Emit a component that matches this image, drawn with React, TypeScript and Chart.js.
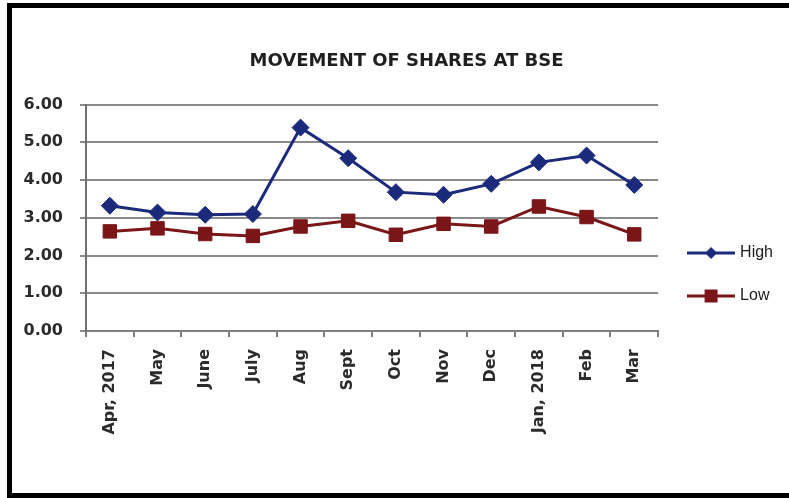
import { useEffect, useRef } from "react";
import { Chart, registerables } from "chart.js";
Chart.register(...registerables);

const categories = ["Apr, 2017", "May", "June", "July", "Aug", "Sept", "Oct", "Nov", "Dec", "Jan, 2018", "Feb", "Mar"];
const highValues = [3.32, 3.14, 3.08, 3.1, 5.39, 4.58, 3.68, 3.61, 3.9, 4.47, 4.65, 3.87];
const lowValues = [2.64, 2.72, 2.57, 2.52, 2.77, 2.92, 2.55, 2.84, 2.77, 3.3, 3.02, 2.56];
const yTicks = [0, 1, 2, 3, 4, 5, 6];
const seriesNames = ["High", "Low"];
const titleText = "MOVEMENT OF SHARES AT BSE";

const HIGH_COLOR = "#1c2a7c";
const LOW_COLOR = "#7a1518";

function makeLegendImage(color: string, kind: "diamond" | "square") {
  const c = document.createElement("canvas");
  c.width = 48;
  c.height = 20;
  const ctx = c.getContext("2d")!;
  ctx.strokeStyle = color;
  ctx.lineWidth = 3;
  ctx.beginPath();
  ctx.moveTo(0, 10);
  ctx.lineTo(48, 10);
  ctx.stroke();
  ctx.fillStyle = color;
  ctx.beginPath();
  if (kind === "diamond") {
    ctx.moveTo(24 - 6, 10);
    ctx.lineTo(24, 4);
    ctx.lineTo(24 + 6, 10);
    ctx.lineTo(24, 16);
    ctx.closePath();
  } else {
    ctx.rect(24 - 6.5, 10 - 6.5, 13, 13);
  }
  ctx.fill();
  return c;
}

const titleShift = {
  id: "titleShift",
  afterLayout(chart: any) {
    const t = chart.titleBlock;
    if (t) {
      t.left += 8;
      t.right += 8;
    }
  },
};

export default function App() {
  const ref = useRef<HTMLCanvasElement | null>(null);
  useEffect(() => {
    if (!ref.current) return;
    const imgs = [makeLegendImage(HIGH_COLOR, "diamond"), makeLegendImage(LOW_COLOR, "square")];
    const chart = new Chart(ref.current, {
      type: "line",
      plugins: [titleShift],
      data: {
        labels: categories,
        datasets: [
          {
            label: seriesNames[0],
            data: highValues,
            borderColor: HIGH_COLOR,
            backgroundColor: HIGH_COLOR,
            borderWidth: 3,
            pointStyle: "rectRot",
            pointRadius: 8.5,
            pointHoverRadius: 8.5,
            pointBorderWidth: 1,
            tension: 0,
            yAxisID: "y",
          },
          {
            label: seriesNames[1],
            data: lowValues,
            borderColor: LOW_COLOR,
            backgroundColor: LOW_COLOR,
            borderWidth: 3,
            pointStyle: "rect",
            pointRadius: 9.5,
            pointHoverRadius: 9.5,
            pointBorderWidth: 1,
            tension: 0,
            yAxisID: "y",
          },
        ],
      },
      options: {
        responsive: false,
        animation: false,
        layout: { padding: { left: 14, right: 6, top: 0, bottom: 0 } },
        plugins: {
          tooltip: { enabled: false },
          title: {
            display: true,
            text: titleText,
            color: "#1f1f1f",
            font: { family: "DejaVu Sans", size: 18, weight: "bold", lineHeight: 1.2 },
            padding: { top: 51, bottom: 32 },
          },
          legend: {
            display: true,
            position: "right",
            align: "end",
            fullSize: false,
            labels: {
              usePointStyle: true,
              pointStyleWidth: 42,
              padding: 27,
              color: "#1a1a1a",
              font: { family: "Liberation Sans", size: 16 },
              generateLabels: (ch: any) => {
                const items = Chart.defaults.plugins.legend.labels.generateLabels(ch);
                items.forEach((it: any, i: number) => {
                  it.pointStyle = imgs[i];
                });
                return items;
              },
            },
          },
        },
        scales: {
          x: {
            type: "category",
            offset: true,
            grid: {
              display: true,
              offset: true,
              drawOnChartArea: false,
              drawTicks: true,
              tickLength: 6,
              color: "#7f7f7f",
              lineWidth: 2,
            },
            border: { display: true, color: "#7f7f7f", width: 2 },
            ticks: {
              autoSkip: false,
              minRotation: 90,
              maxRotation: 90,
              padding: 12,
              color: "#2b2b2b",
              font: { family: "DejaVu Sans", size: 16, weight: "bold" },
            },
            afterFit: (s: any) => {
              s.height = 167;
            },
          },
          y: {
            type: "linear",
            position: "left",
            min: 0,
            max: 6,
            afterBuildTicks: (s: any) => {
              s.ticks = yTicks.map((v) => ({ value: v }));
            },
            grid: {
              color: "#8a8a8a",
              lineWidth: 2,
              tickLength: 6,
              drawTicks: true,
            },
            border: { display: true, color: "#6f6f6f", width: 2 },
            ticks: {
              padding: 17,
              color: "#2b2b2b",
              font: { family: "DejaVu Sans", size: 16, weight: "bold" },
              callback: (v: any) => Number(v).toFixed(2),
            },
            afterFit: (s: any) => {
              s.width = 72;
            },
          },
          y2: {
            type: "linear",
            position: "right",
            display: true,
            min: 0,
            max: 6,
            grid: { display: false, drawTicks: false },
            border: { display: false },
            ticks: { display: false },
            afterFit: (s: any) => {
              s.width = 5;
            },
          },
        },
      },
    });
    return () => chart.destroy();
  }, []);

  return (
    <div style={{ position: "fixed", left: 0, top: 0, width: 789, height: 498, overflow: "hidden", background: "#ffffff" }}>
      <div
        style={{
          position: "absolute",
          left: 7,
          top: 3,
          width: 800,
          height: 495,
          border: "5px solid #000",
          boxSizing: "border-box",
        }}
      />
      <canvas ref={ref} width={789} height={498} style={{ position: "absolute", left: 0, top: 0, width: 789, height: 498 }} />
    </div>
  );
}
